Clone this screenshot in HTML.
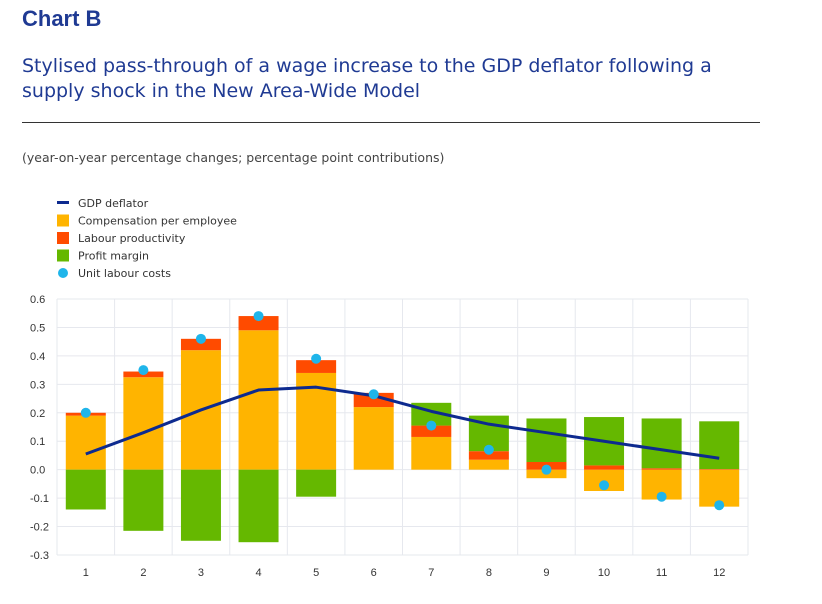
<!DOCTYPE html>
<html><head><meta charset="utf-8"><style>
body{margin:0;background:#fff;width:822px;height:604px;overflow:hidden;font-family:"Liberation Sans",sans-serif;position:relative}
.t{position:absolute;left:22px;top:6px;font-size:22px;font-weight:bold;color:#1f3a93}
.s{position:absolute;left:22px;top:54px;font-family:"DejaVu Sans",sans-serif;font-size:19px;line-height:25px;color:#1f3a93}
.r{position:absolute;left:22px;top:122px;width:738px;height:1px;background:#333}
.u{position:absolute;left:22px;top:150px;font-family:"DejaVu Sans",sans-serif;font-size:12.5px;color:#444}
</style></head><body>
<div class="t">Chart B</div>
<div class="s">Stylised pass-through of a wage increase to the GDP deflator following a<br>supply shock in the New Area-Wide Model</div>
<div class="r"></div>
<div class="u">(year-on-year percentage changes; percentage point contributions)</div>
<svg id="c" width="822" height="604" style="position:absolute;left:0;top:0"></svg>
<script>
const categories=["1","2","3","4","5","6","7","8","9","10","11","12"];
const comp=[0.19,0.325,0.42,0.49,0.34,0.22,0.115,0.035,-0.03,-0.075,-0.105,-0.13];
const prod=[0.01,0.02,0.04,0.05,0.045,0.05,0.04,0.03,0.027,0.015,0.005,0.002];
const profit=[-0.14,-0.215,-0.25,-0.255,-0.095,0,0.08,0.125,0.153,0.17,0.175,0.168];
const ulc=[0.2,0.35,0.46,0.54,0.39,0.265,0.155,0.07,0,-0.055,-0.095,-0.125];
const gdp=[0.055,0.13,0.21,0.28,0.29,0.26,0.205,0.16,0.13,0.1,0.07,0.04];
const yTicks=[0.6,0.5,0.4,0.3,0.2,0.1,0.0,-0.1,-0.2,-0.3];
const L=57,R=748,T=299,B=555,yMin=-0.3,yMax=0.6;
const y=v=>B-(v-yMin)/(yMax-yMin)*(B-T);
const step=(R-L)/categories.length;
const x=i=>L+step*(i+0.5);
const svg=document.getElementById('c');const NS="http://www.w3.org/2000/svg";
function mk(t,a){const e=document.createElementNS(NS,t);for(const k in a)e.setAttribute(k,a[k]);svg.appendChild(e);return e;}
yTicks.forEach(v=>{const g=mk('line',{x1:L,x2:R,y1:y(v),y2:y(v),stroke:'#e6e8ee','stroke-width':1});


const t=mk('text',{x:30,y:y(v)+4,'font-size':11,fill:'#333'});t.textContent=v.toFixed(1);

});
for(let i=0;i<=categories.length;i++){const g=mk('line',{x1:L+step*i,x2:L+step*i,y1:T,y2:B,stroke:'#e6e8ee'});

}
const bw=40,cols=['#ffb400','#ff4b00','#65b800'];
categories.forEach((c,i)=>{let pos=0,neg=0;[comp[i],prod[i],profit[i]].forEach((v,k)=>{let y0,y1;
if(v>=0){y0=pos;y1=pos+v;pos=y1;}else{y0=neg;y1=neg+v;neg=y1;}
const r=mk('rect',{x:x(i)-bw/2,y:Math.min(y(y0),y(y1)),width:bw,height:Math.abs(y(y0)-y(y1)),fill:cols[k]});

});
const t=mk('text',{x:x(i),y:576,'font-size':11,fill:'#333','text-anchor':'middle'});t.textContent=c;

});
const p=mk('polyline',{points:gdp.map((v,i)=>x(i)+','+y(v)).join(' '),fill:'none',stroke:'#0d2a8f','stroke-width':3,'stroke-linejoin':'round'});


ulc.forEach((v,i)=>{const d=mk('circle',{cx:x(i),cy:y(v),r:5,fill:'#1fb5ea'});

});
const leg=[['GDP deflator','line','#0d2a8f'],['Compensation per employee','rect','#ffb400'],['Labour productivity','rect','#ff4b00'],['Profit margin','rect','#65b800'],['Unit labour costs','dot','#1fb5ea']];
leg.forEach((l,k)=>{const yy=203+k*17.5;let m;
if(l[1]=='line')m=mk('rect',{x:57,y:yy-2,width:12,height:3,fill:l[2]});
else if(l[1]=='rect')m=mk('rect',{x:57,y:yy-6,width:12,height:12,fill:l[2]});
else m=mk('circle',{cx:63,cy:yy,r:5,fill:l[2]});


const t=mk('text',{x:78,y:yy+4,'font-size':11,'font-family':'DejaVu Sans, sans-serif',fill:'#333'});t.textContent=l[0];

});
</script>
</body></html>
